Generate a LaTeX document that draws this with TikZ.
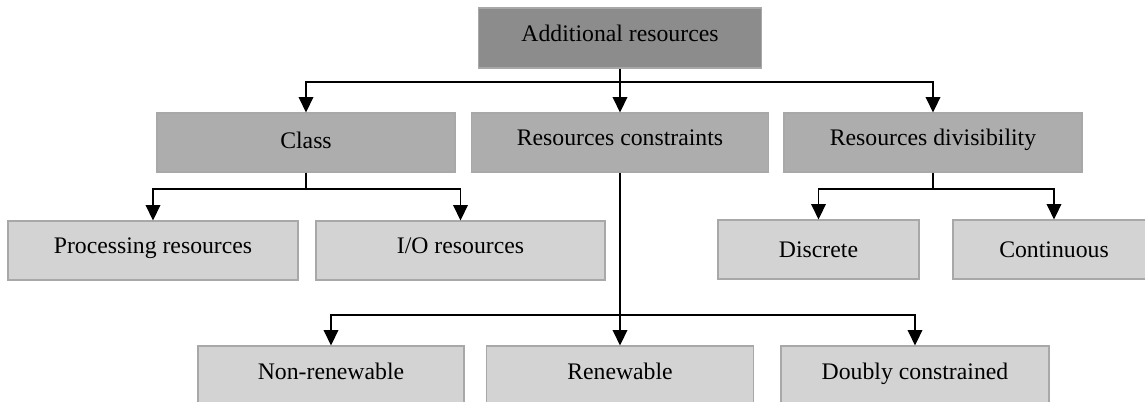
\documentclass[tikz,border=0pt]{standalone}
\usepackage{fontspec}
\setmainfont{Liberation Serif}
\usetikzlibrary{arrows.meta}
\definecolor{lvA}{HTML}{8C8C8C}
\definecolor{lvB}{HTML}{ADADAD}
\definecolor{lvC}{HTML}{D3D3D3}
\definecolor{edgeC}{HTML}{A8A8A8}
\begin{document}
\begin{tikzpicture}[x=0.75pt,y=-0.75pt,
  box/.style={draw=edgeC, line width=0.9pt, inner sep=0pt, align=center,
    text height=12.5pt, text depth=8pt,
    font=\fontsize{17.8}{20}\selectfont, text=black},
  boxA/.style={box, fill=lvA, minimum height=60*0.75pt},
  boxB/.style={box, fill=lvB, minimum height=59*0.75pt},
  boxC/.style={box, fill=lvC, minimum height=59*0.75pt},
  boxD/.style={box, fill=lvC, minimum height=60*0.75pt},
  conn/.style={line width=1.1pt, black},
  arr/.style={conn, -{Triangle[length=11.5pt, width=11pt]}}]
\useasboundingbox (0,0) rectangle (1145,401);

\node[boxA, minimum width=283*0.75pt] (top) at (620,38) {Additional resources};

\node[boxB, minimum width=298*0.75pt, text depth=3.5pt] (class) at (306,142.5) {Class};
\node[boxB, minimum width=297*0.75pt] (cons) at (620,142.5) {Resources constraints};
\node[boxB, minimum width=298*0.75pt] (div) at (933,142.5) {Resources divisibility};

\node[boxC, minimum width=290*0.75pt] (proc) at (153,250.5) {Processing resources};
\node[boxC, minimum width=289*0.75pt] (io) at (460.5,250.5) {I/O resources};
\node[boxC, minimum width=201*0.75pt, text depth=0.5pt] (disc) at (818.5,249.5) {Discrete};
\node[boxC, minimum width=202*0.75pt, text depth=0.5pt] (cont) at (1054,249.5) {Continuous};

\node[boxD, minimum width=266*0.75pt] (nonren) at (331,376) {Non-renewable};
\node[boxD, minimum width=267*0.75pt] (ren) at (620,376) {Renewable};
\node[boxD, minimum width=268*0.75pt] (doubly) at (915,376) {Doubly constrained};

\coordinate (j0) at (620,82);
\coordinate (j1) at (306,189);
\coordinate (j2) at (933,189);
\coordinate (j3) at (620,315);

\draw[conn] (top.south) -- (j0);
\draw[arr] (j0) -| (class.north);
\draw[arr] (j0) -- (cons.north);
\draw[arr] (j0) -| (div.north);

\draw[conn] (class.south) -- (j1);
\draw[arr] (j1) -| (proc.north);
\draw[arr] (j1) -| (io.north);

\draw[conn] (div.south) -- (j2);
\draw[arr] (j2) -| (disc.north);
\draw[arr] (j2) -| (cont.north);

\draw[arr] (cons.south) -- (ren.north);
\draw[arr] (j3) -| (nonren.north);
\draw[arr] (j3) -| (doubly.north);
\end{tikzpicture}
\end{document}
